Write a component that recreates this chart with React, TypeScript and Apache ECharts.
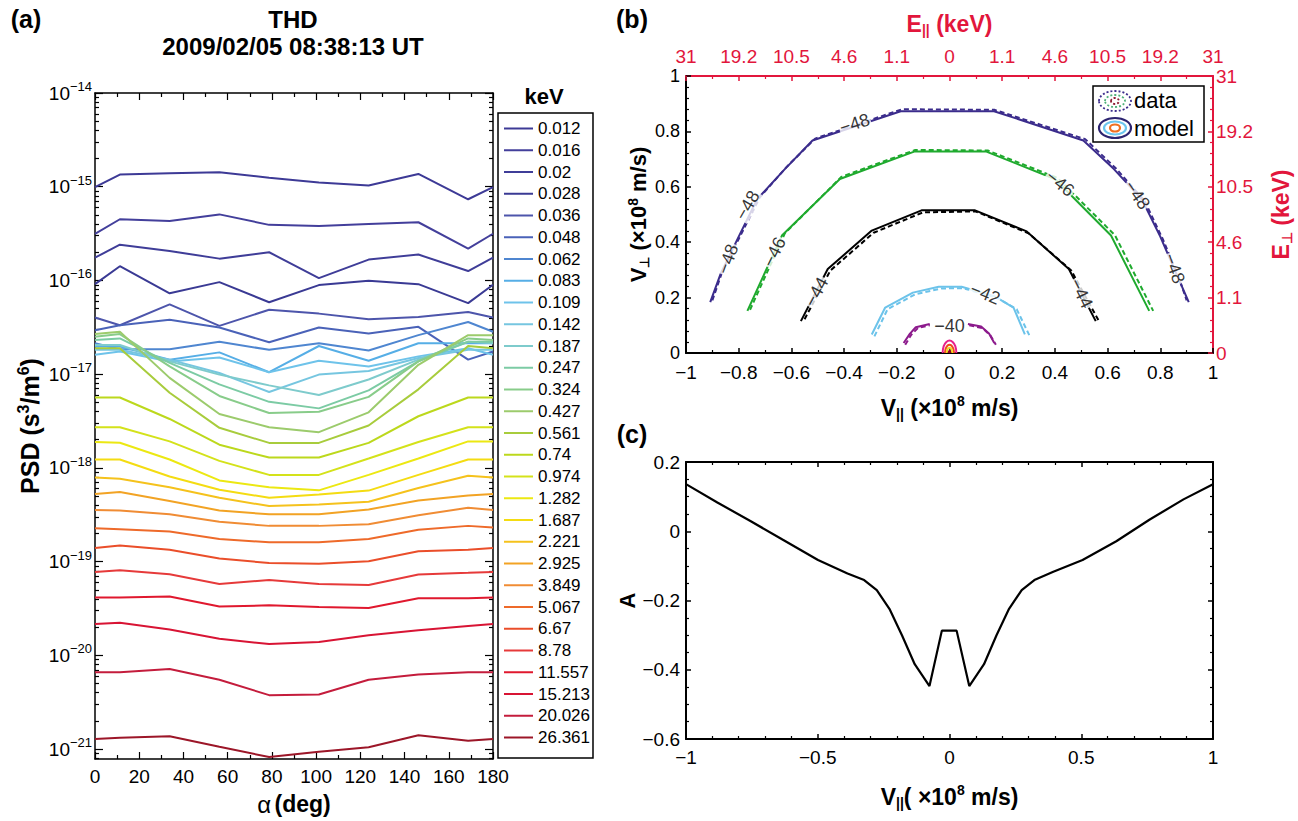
import React, { useEffect, useRef } from "react";
import * as echarts from "echarts";

const FONT = "'Liberation Sans', Arial, Helvetica, sans-serif";
const RED = "#e2163c";

// ---------------- Panel (a): PSD vs pitch angle ----------------
const pitchAngleDeg = [0, 11.25, 33.75, 56.25, 78.75, 101.25, 123.75, 146.25, 168.75, 180];
const energyKeV = ["0.012", "0.016", "0.02", "0.028", "0.036", "0.048", "0.062", "0.083", "0.109", "0.142", "0.187", "0.247", "0.324", "0.427", "0.561", "0.74", "0.974", "1.282", "1.687", "2.221", "2.925", "3.849", "5.067", "6.67", "8.78", "11.557", "15.213", "20.026", "26.361"];
const energyColors = ["#3d3a96", "#433f9b", "#3f3d98", "#3a3a94", "#4d55ab", "#4a62b8", "#4f86d0", "#56aee6", "#6ec3ea", "#76c6e0", "#7ecbcc", "#7ccba4", "#88cc8a", "#9ccb6c", "#a8cc3c", "#bcd81c", "#d4e21a", "#ece812", "#f4dc12", "#f5c21c", "#f2a324", "#f08c34", "#ee6a2a", "#ea4e2a", "#e63a3a", "#e0182e", "#d81434", "#c41c3c", "#9c1628"];

const psd_0012 = [9.9e-16, 1.35e-15, 1.39e-15, 1.43e-15, 1.25e-15, 1.11e-15, 1.03e-15, 1.37e-15, 7.35e-16, 9.9e-16];
const psd_0016 = [3.15e-16, 4.5e-16, 4.32e-16, 5.07e-16, 3.92e-16, 3.82e-16, 4.01e-16, 4.18e-16, 2.19e-16, 3.15e-16];
const psd_0020 = [1.75e-16, 2.41e-16, 2.06e-16, 1.71e-16, 2.0e-16, 1.06e-16, 1.67e-16, 1.89e-16, 1.26e-16, 1.75e-16];
const psd_0028 = [9.14e-17, 1.42e-16, 7.3e-17, 9.6e-17, 5.86e-17, 8.93e-17, 9.93e-17, 9.14e-17, 5.73e-17, 9.0e-17];
const psd_0036 = [4.02e-17, 3.33e-17, 5.55e-17, 3.28e-17, 4.88e-17, 4.43e-17, 3.85e-17, 4.08e-17, 4.6e-17, 4.02e-17];
const psd_0048 = [2.95e-17, 3.33e-17, 3.82e-17, 3.15e-17, 2.19e-17, 3.15e-17, 2.72e-17, 3.2e-17, 1.43e-17, 1.75e-17];
const psd_0062 = [2.14e-17, 1.85e-17, 1.85e-17, 2.22e-17, 1.82e-17, 2.14e-17, 1.79e-17, 2.61e-17, 3.61e-17, 2.84e-17];
const psd_0083 = [1.97e-17, 1.97e-17, 1.43e-17, 1.71e-17, 1.05e-17, 2.0e-17, 1.39e-17, 2.14e-17, 2.14e-17, 2.14e-17];
const psd_0109 = [1.61e-17, 1.75e-17, 1.37e-17, 1.51e-17, 1.05e-17, 1.39e-17, 1.21e-17, 1.55e-17, 1.89e-17, 1.61e-17];
const psd_0142 = [1.82e-17, 1.82e-17, 1.43e-17, 1.03e-17, 6.46e-18, 9.9e-18, 1.08e-17, 1.49e-17, 1.82e-17, 1.82e-17];
const psd_0187 = [2.05e-17, 2.05e-17, 1.37e-17, 9.9e-18, 7.6e-18, 6.01e-18, 8.79e-18, 1.43e-17, 2.22e-17, 2.14e-17];
const psd_0247 = [2.32e-17, 2.41e-17, 1.32e-17, 7.78e-18, 5.07e-18, 4.32e-18, 6.73e-18, 1.37e-17, 2.22e-17, 2.22e-17];
const psd_0324 = [2.51e-17, 2.68e-17, 1.21e-17, 5.86e-18, 3.85e-18, 3.98e-18, 5.73e-18, 1.37e-17, 2.41e-17, 2.32e-17];
const psd_0427 = [2.68e-17, 2.84e-17, 9.14e-18, 3.76e-18, 2.72e-18, 2.41e-18, 3.92e-18, 1.26e-17, 2.61e-17, 2.61e-17];
const psd_0561 = [1.89e-17, 1.89e-17, 6.35e-18, 2.68e-18, 1.85e-18, 1.85e-18, 2.84e-18, 6.9e-18, 2.0e-17, 1.89e-17];
const psd_0740 = [5.64e-18, 5.64e-18, 3.33e-18, 1.77e-18, 1.29e-18, 1.29e-18, 1.85e-18, 3.56e-18, 5.64e-18, 5.64e-18];
const psd_0974 = [2.72e-18, 2.72e-18, 1.92e-18, 1.19e-18, 8.43e-19, 8.43e-19, 1.26e-18, 1.89e-18, 2.72e-18, 2.72e-18];
const psd_1282 = [1.89e-18, 1.86e-18, 1.23e-18, 7.36e-19, 6.21e-19, 5.77e-19, 8.43e-19, 1.26e-18, 1.92e-18, 1.92e-18];
const psd_1687 = [1.23e-18, 1.23e-18, 8.11e-19, 5.86e-19, 4.8e-19, 5.2e-19, 5.73e-19, 8.43e-19, 1.23e-18, 1.23e-18];
const psd_2221 = [7.91e-19, 7.66e-19, 6.21e-19, 4.8e-19, 3.92e-19, 4.07e-19, 4.36e-19, 6.11e-19, 8.24e-19, 7.91e-19];
const psd_2925 = [5.28e-19, 5.55e-19, 4.43e-19, 3.52e-19, 3.2e-19, 3.2e-19, 3.61e-19, 4.5e-19, 5.07e-19, 5.28e-19];
const psd_3849 = [3.56e-19, 3.52e-19, 3.2e-19, 2.66e-19, 2.41e-19, 2.41e-19, 2.51e-19, 3.13e-19, 3.76e-19, 3.56e-19];
const psd_5067 = [2.28e-19, 2.22e-19, 2.1e-19, 1.75e-19, 1.61e-19, 1.61e-19, 1.75e-19, 2.19e-19, 2.41e-19, 2.32e-19];
const psd_6670 = [1.4e-19, 1.49e-19, 1.34e-19, 1.08e-19, 9.68e-20, 9.53e-20, 1.01e-19, 1.29e-19, 1.34e-19, 1.4e-19];
const psd_8780 = [7.78e-20, 8.11e-20, 7.36e-20, 5.78e-20, 6.37e-20, 5.78e-20, 5.64e-20, 7.29e-20, 7.6e-20, 7.78e-20];
const psd_11557 = [4.15e-20, 4.15e-20, 4.25e-20, 3.33e-20, 3.42e-20, 3.28e-20, 3.21e-20, 4.08e-20, 4.08e-20, 4.15e-20];
const psd_15213 = [2.17e-20, 2.23e-20, 1.89e-20, 1.51e-20, 1.32e-20, 1.39e-20, 1.64e-20, 1.86e-20, 2.06e-20, 2.17e-20];
const psd_20026 = [6.62e-21, 6.62e-21, 7.18e-21, 5.51e-21, 3.77e-21, 3.83e-21, 5.51e-21, 6.27e-21, 6.62e-21, 6.62e-21];
const psd_26361 = [1.28e-21, 1.32e-21, 1.37e-21, 1.06e-21, 8.24e-22, 9.38e-22, 1.05e-21, 1.41e-21, 1.23e-21, 1.28e-21];

const psdRows = [psd_0012, psd_0016, psd_0020, psd_0028, psd_0036, psd_0048, psd_0062, psd_0083, psd_0109, psd_0142, psd_0187, psd_0247, psd_0324, psd_0427, psd_0561, psd_0740, psd_0974, psd_1282, psd_1687, psd_2221, psd_2925, psd_3849, psd_5067, psd_6670, psd_8780, psd_11557, psd_15213, psd_20026, psd_26361];

const psdDecadeExponents = [-21, -20, -19, -18, -17, -16, -15, -14];
const PSD_LOG_MIN = -21.105;
const PSD_LOG_MAX = -14;

// ---------------- Panel (b): contours ----------------
const eParallelLabels = ["31", "19.2", "10.5", "4.6", "1.1", "0", "1.1", "4.6", "10.5", "19.2", "31"];
const ePerpLabels = ["0", "1.1", "4.6", "10.5", "19.2", "31"];

const model48 = [[-0.908, 0.184], [-0.869, 0.285], [-0.8, 0.42], [-0.73, 0.555], [-0.625, 0.664], [-0.52, 0.767], [-0.185, 0.873], [0.169, 0.873], [0.508, 0.767], [0.624, 0.664], [0.73, 0.555], [0.8, 0.42], [0.867, 0.273], [0.908, 0.184]];
const data48 = [[-0.9, 0.19], [-0.86, 0.3], [-0.79, 0.43], [-0.72, 0.562], [-0.618, 0.672], [-0.51, 0.774], [-0.18, 0.88], [0.17, 0.878], [0.515, 0.772], [0.632, 0.666], [0.74, 0.55], [0.81, 0.41], [0.872, 0.268], [0.9, 0.19]];
const model46 = [[-0.767, 0.152], [-0.636, 0.424], [-0.416, 0.628], [-0.134, 0.727], [0.14, 0.727], [0.4, 0.628], [0.613, 0.424], [0.758, 0.152]];
const data46 = [[-0.757, 0.156], [-0.625, 0.432], [-0.41, 0.636], [-0.13, 0.733], [0.145, 0.731], [0.41, 0.632], [0.628, 0.425], [0.773, 0.152]];
const model44 = [[-0.564, 0.115], [-0.462, 0.303], [-0.295, 0.442], [-0.106, 0.515], [0.097, 0.515], [0.293, 0.439], [0.453, 0.303], [0.555, 0.115]];
const data44 = [[-0.55, 0.122], [-0.452, 0.298], [-0.288, 0.434], [-0.1, 0.508], [0.1, 0.511], [0.3, 0.432], [0.462, 0.298], [0.57, 0.11]];
const model42 = [[-0.295, 0.067], [-0.244, 0.164], [-0.139, 0.218], [-0.041, 0.239], [0.046, 0.239], [0.17, 0.205], [0.243, 0.164], [0.286, 0.067]];
const data42 = [[-0.285, 0.06], [-0.235, 0.158], [-0.13, 0.212], [-0.03, 0.233], [0.05, 0.234], [0.18, 0.2], [0.255, 0.158], [0.305, 0.06]];
const model40Left = [[-0.174, 0.036], [-0.15, 0.07], [-0.128, 0.093], [-0.075, 0.105]];
const model40Right = [[0.07, 0.105], [0.12, 0.096], [0.15, 0.07], [0.17, 0.036]];
const data40Left = [[-0.168, 0.03], [-0.145, 0.066], [-0.12, 0.09], [-0.075, 0.1]];
const data40Right = [[0.075, 0.1], [0.125, 0.09], [0.155, 0.064], [0.176, 0.03]];
const ring38 = [[-0.026, 0], [-0.022, 0.025], [-0.012, 0.04], [0, 0.045], [0.012, 0.04], [0.022, 0.025], [0.026, 0]];
const ring36 = [[-0.017, 0], [-0.014, 0.017], [0, 0.03], [0.014, 0.017], [0.017, 0]];
const ring34 = [[-0.01, 0], [-0.008, 0.012], [0, 0.019], [0.008, 0.012], [0.01, 0]];
const ring32 = [[-0.004, 0], [0, 0.008], [0.004, 0]];

const contourLabelText = ["−48", "−48", "−48", "−48", "−48", "−46", "−46", "−44", "−44", "−42", "−40"];
const contourLabelPos = [[-0.841, 0.339], [-0.767, 0.533], [-0.36, 0.828], [0.712, 0.57], [0.853, 0.305], [-0.665, 0.364], [0.42, 0.612], [-0.505, 0.22], [0.5, 0.215], [0.135, 0.214], [0.0, 0.097]];
const contourLabelRot = [70, 60, 18, -55, -70, 64, -38, 62, -64, -22, 0];

// ---------------- Panel (c): anisotropy ----------------
const vParallelC = [-1, -0.881, -0.754, -0.634, -0.499, -0.387, -0.324, -0.276, -0.228, -0.18, -0.132, -0.076, -0.029, 0.027, 0.075, 0.131, 0.178, 0.226, 0.274, 0.322, 0.394, 0.505, 0.633, 0.76, 0.888, 1.0];
const anisotropyA = [0.136, 0.083, 0.029, -0.024, -0.083, -0.122, -0.141, -0.17, -0.224, -0.301, -0.384, -0.447, -0.287, -0.287, -0.447, -0.384, -0.301, -0.224, -0.17, -0.141, -0.117, -0.083, -0.029, 0.034, 0.092, 0.136];

// ---------------- helpers ----------------
const minus = (v: number, digits = 1) => {
  const r = Math.round(v * Math.pow(10, digits)) / Math.pow(10, digits);
  if (Math.abs(r) < 1e-9) return "0";
  return r < 0 ? "−" + String(Math.abs(r)) : String(r);
};

const psdMinorTicks: number[] = [];
for (let e = -22; e <= -15; e++) {
  for (let m = 2; m <= 9; m++) {
    const v = e + Math.log10(m);
    if (v > PSD_LOG_MIN && v < PSD_LOG_MAX) psdMinorTicks.push(v);
  }
}

const richBase = (size: number, color = "#000", weight: any = "bold") => ({
  n: { fontSize: size, fontWeight: weight, color, fontFamily: FONT },
  sup: { fontSize: Math.round(size * 0.62), fontWeight: weight, color, fontFamily: FONT, padding: [0, 0, Math.round(size * 0.55), 0] },
  sub: { fontSize: Math.round(size * 0.6), fontWeight: weight, color, fontFamily: FONT, padding: [Math.round(size * 0.55), 0, 0, 0] },
});

function buildOption(): any {
  const lineW = 1.5;
  const blackLine = { onZero: false, lineStyle: { color: "#000", width: 2 } };
  const redLine = { onZero: false, lineStyle: { color: RED, width: 2 } };
  const tickLbl = (size: number, color = "#000", margin = 6) => ({ fontSize: size, color, fontFamily: FONT, margin });

  const xAxis: any[] = [
    // 0: (a) bottom
    {
      type: "value", gridIndex: 0, min: 0, max: 180, interval: 20, position: "bottom",
      axisLine: { onZero: false, lineStyle: { color: "#000", width: lineW } },
      axisTick: { inside: true, length: 7, lineStyle: { color: "#000", width: 1.2 } },
      minorTick: { show: true, splitNumber: 2, length: 4, lineStyle: { color: "#000", width: 1.2 } },
      axisLabel: tickLbl(19, "#000", 8), splitLine: { show: false },
      name: "{g|α} {n|(deg)}", nameLocation: "middle", nameGap: 33,
      nameTextStyle: { rich: { ...richBase(23), g: { fontSize: 24, fontFamily: FONT, color: "#000" } } },
    },
    // 1: (a) top
    {
      type: "value", gridIndex: 0, min: 0, max: 180, interval: 20, position: "top",
      axisLine: { onZero: false, lineStyle: { color: "#000", width: lineW } },
      axisTick: { inside: true, length: 7, lineStyle: { color: "#000", width: 1.2 } },
      minorTick: { show: true, splitNumber: 2, length: 4, lineStyle: { color: "#000", width: 1.2 } },
      axisLabel: { show: false }, splitLine: { show: false },
    },
    // 2: (b) bottom
    {
      type: "value", gridIndex: 1, min: -1, max: 1, interval: 0.2, position: "bottom",
      axisLine: blackLine,
      axisTick: { inside: true, length: 5, lineStyle: { color: "#000", width: 1.5 } },
      minorTick: { show: true, splitNumber: 2, length: 3, lineStyle: { color: "#000", width: 1.2 } },
      axisLabel: { ...tickLbl(19, "#000", 10), formatter: (v: number) => minus(v) }, splitLine: { show: false },
      name: "{n|V}{sub|||}{n| (×10}{sup|8}{n| m/s)}", nameLocation: "middle", nameGap: 41,
      nameTextStyle: { rich: richBase(23) },
    },
    // 3: (b) top (red, E parallel)
    {
      type: "value", gridIndex: 1, min: -1, max: 1, interval: 0.2, position: "top",
      axisLine: redLine,
      axisTick: { inside: true, length: 5, lineStyle: { color: RED, width: 1.5 } },
      minorTick: { show: true, splitNumber: 2, length: 3, lineStyle: { color: RED, width: 1.2 } },
      axisLabel: { ...tickLbl(19, RED, 10), formatter: (v: number) => eParallelLabels[Math.round((v + 1) / 0.2)] ?? "" },
      splitLine: { show: false },
      name: "{n|E}{sub|||}{n| (keV)}", nameLocation: "middle", nameGap: 39,
      nameTextStyle: { rich: richBase(23, RED) },
    },
    // 4: (c) bottom
    {
      type: "value", gridIndex: 2, min: -1, max: 1, interval: 0.5, position: "bottom",
      axisLine: blackLine,
      axisTick: { inside: true, length: 5, lineStyle: { color: "#000", width: 1.5 } },
      minorTick: { show: true, splitNumber: 5, length: 3, lineStyle: { color: "#000", width: 1.2 } },
      axisLabel: { ...tickLbl(19, "#000", 9), formatter: (v: number) => minus(v) }, splitLine: { show: false },
      name: "{n|V}{sub|||}{n|( ×10}{sup|8}{n| m/s)}", nameLocation: "middle", nameGap: 44,
      nameTextStyle: { rich: richBase(23) },
    },
    // 5: (c) top
    {
      type: "value", gridIndex: 2, min: -1, max: 1, interval: 0.5, position: "top",
      axisLine: blackLine,
      axisTick: { inside: true, length: 5, lineStyle: { color: "#000", width: 1.5 } },
      minorTick: { show: true, splitNumber: 5, length: 3, lineStyle: { color: "#000", width: 1.2 } },
      axisLabel: { show: false }, splitLine: { show: false },
    },
  ];

  const psdLabelFmt = (v: number) => {
    const e = Math.round(v);
    if (Math.abs(v - e) > 1e-6) return "";
    return "{b|10}{s|−" + String(-e) + "}";
  };
  const psdLabelRich = {
    b: { fontSize: 19, fontFamily: FONT, color: "#000" },
    s: { fontSize: 13, fontFamily: FONT, color: "#000", padding: [0, 0, 13, 0] },
  };

  const yAxis: any[] = [
    // 0: (a) left major
    {
      type: "value", gridIndex: 0, min: PSD_LOG_MIN, max: PSD_LOG_MAX, splitNumber: 7, position: "left",
      axisLine: { onZero: false, lineStyle: { color: "#000", width: lineW } },
      axisTick: { inside: true, length: 8, customValues: psdDecadeExponents, lineStyle: { color: "#000", width: 1.2 } },
      axisLabel: { customValues: psdDecadeExponents, formatter: psdLabelFmt, rich: psdLabelRich, margin: 3, fontFamily: FONT },
      splitLine: { show: false },
      name: "{n|PSD (s}{sup|3}{n|/m}{sup|6}{n|)}", nameLocation: "middle", nameRotate: 90, nameGap: 50,
      nameTextStyle: { rich: richBase(25) },
    },
    // 1: (a) left minor
    {
      type: "value", gridIndex: 0, min: PSD_LOG_MIN, max: PSD_LOG_MAX, position: "left",
      axisLine: { show: false, onZero: false },
      axisTick: { inside: true, length: 4, customValues: psdMinorTicks, lineStyle: { color: "#000", width: 1.2 } },
      axisLabel: { show: false }, splitLine: { show: false },
    },
    // 2: (a) right major
    {
      type: "value", gridIndex: 0, min: PSD_LOG_MIN, max: PSD_LOG_MAX, position: "right",
      axisLine: { onZero: false, lineStyle: { color: "#000", width: lineW } },
      axisTick: { inside: true, length: 8, customValues: psdDecadeExponents, lineStyle: { color: "#000", width: 1.2 } },
      axisLabel: { show: false }, splitLine: { show: false },
    },
    // 3: (a) right minor
    {
      type: "value", gridIndex: 0, min: PSD_LOG_MIN, max: PSD_LOG_MAX, position: "right",
      axisLine: { show: false, onZero: false },
      axisTick: { inside: true, length: 4, customValues: psdMinorTicks, lineStyle: { color: "#000", width: 1.2 } },
      axisLabel: { show: false }, splitLine: { show: false },
    },
    // 4: (b) left
    {
      type: "value", gridIndex: 1, min: 0, max: 1, interval: 0.2, position: "left",
      axisLine: blackLine,
      axisTick: { inside: true, length: 5, lineStyle: { color: "#000", width: 1.5 } },
      minorTick: { show: true, splitNumber: 5, length: 3, lineStyle: { color: "#000", width: 1.2 } },
      axisLabel: { ...tickLbl(18, "#000", 6), formatter: (v: number) => minus(v) }, splitLine: { show: false },
      name: "{n|V}{sub|⊥}{n| (×10}{sup|8}{n| m/s)}", nameLocation: "middle", nameRotate: 90, nameGap: 34,
      nameTextStyle: { rich: richBase(22) },
    },
    // 5: (b) right (red, E perp)
    {
      type: "value", gridIndex: 1, min: 0, max: 1, interval: 0.2, position: "right",
      axisLine: redLine,
      axisTick: { inside: true, length: 5, lineStyle: { color: RED, width: 1.5 } },
      minorTick: { show: true, splitNumber: 5, length: 3, lineStyle: { color: RED, width: 1.2 } },
      axisLabel: { ...tickLbl(19, RED, 3), formatter: (v: number) => ePerpLabels[Math.round(v / 0.2)] ?? "" },
      splitLine: { show: false },
      name: "{n|E}{sub|⊥}{n| (keV)}", nameLocation: "middle", nameRotate: 90, nameGap: 54,
      nameTextStyle: { rich: richBase(23, RED) },
    },
    // 6: (c) left
    {
      type: "value", gridIndex: 2, min: -0.6, max: 0.2, interval: 0.2, position: "left",
      axisLine: blackLine,
      axisTick: { inside: true, length: 5, lineStyle: { color: "#000", width: 1.5 } },
      minorTick: { show: true, splitNumber: 4, length: 3, lineStyle: { color: "#000", width: 1.2 } },
      axisLabel: { ...tickLbl(19, "#000", 6), formatter: (v: number) => minus(v) }, splitLine: { show: false },
      name: "A", nameLocation: "middle", nameRotate: 90, nameGap: 48,
      nameTextStyle: { fontSize: 22, fontWeight: "bold", fontFamily: FONT, color: "#000" },
    },
    // 7: (c) right
    {
      type: "value", gridIndex: 2, min: -0.6, max: 0.2, interval: 0.2, position: "right",
      axisLine: blackLine,
      axisTick: { inside: true, length: 5, lineStyle: { color: "#000", width: 1.5 } },
      minorTick: { show: true, splitNumber: 4, length: 3, lineStyle: { color: "#000", width: 1.2 } },
      axisLabel: { show: false }, splitLine: { show: false },
    },
  ];

  const series: any[] = [];
  energyKeV.forEach((name, i) => {
    series.push({
      type: "line", name, xAxisIndex: 0, yAxisIndex: 0, symbol: "none", silent: true,
      lineStyle: { color: energyColors[i], width: 2 }, itemStyle: { color: energyColors[i] },
      data: pitchAngleDeg.map((a, j) => [a, Math.log10(psdRows[i][j])]), z: 3,
    });
  });

  const contour = (name: string, data: number[][], color: string, dashed: boolean, smooth = false) => ({
    type: "line", name, xAxisIndex: 2, yAxisIndex: 4, symbol: "none", silent: true, smooth,
    lineStyle: { color, width: 2, type: dashed ? [5, 3] : "solid" }, itemStyle: { color },
    data, z: dashed ? 3 : 4,
  });
  const C48 = "#3b2c8c", C46 = "#1faa2e", C44 = "#000000", C42 = "#6cc3ea", C40 = "#8c1a8c";
  series.push(contour("data −48", data48, C48, true));
  series.push(contour("model −48", model48, C48, false));
  series.push(contour("data −46", data46, C46, true));
  series.push(contour("model −46", model46, C46, false));
  series.push(contour("data −44", data44, C44, true));
  series.push(contour("model −44", model44, C44, false));
  series.push(contour("data −42", data42, C42, true));
  series.push(contour("model −42", model42, C42, false));
  series.push(contour("data −40 L", data40Left, C40, true));
  series.push(contour("data −40 R", data40Right, C40, true));
  series.push(contour("model −40 L", model40Left, C40, false));
  series.push(contour("model −40 R", model40Right, C40, false));
  series.push(contour("model −38", ring38, "#e8208c", false, true));
  series.push(contour("model −36", ring36, "#f04a20", false, true));
  series.push(contour("model −34", ring34, "#f0d820", false, true));
  series.push(contour("model −32", ring32, "#900020", false, true));
  series.push({
    type: "scatter", name: "contour labels", xAxisIndex: 2, yAxisIndex: 4, symbolSize: 0, silent: true, z: 6,
    data: contourLabelPos.map((p, i) => ({ value: p, label: { rotate: contourLabelRot[i] } })),
    label: {
      show: true, position: "inside", fontSize: 18, color: "#000", fontFamily: FONT,
      backgroundColor: "#fff", padding: [0, 1],
      formatter: (p: any) => contourLabelText[p.dataIndex],
    },
  });

  series.push({
    type: "line", name: "A", xAxisIndex: 4, yAxisIndex: 6, symbol: "none", silent: true,
    lineStyle: { color: "#000", width: 2.2 }, itemStyle: { color: "#000" },
    data: vParallelC.map((v, i) => [v, anisotropyA[i]]), z: 3,
  });

  const txt = (text: string, x: number, y: number, size: number, weight = "bold", align = "center", color = "#000") => ({
    type: "text", x, y, z: 100, silent: true,
    style: {
      text, fill: color, fontSize: size, fontWeight: weight, fontFamily: FONT,
      align, verticalAlign: "middle", textAlign: align, textVerticalAlign: "middle",
    },
  });
  const ell = (cx: number, cy: number, rx: number, ry: number, color: string, dash: boolean) => ({
    type: "ellipse", z: 101, silent: true, shape: { cx, cy, rx, ry },
    style: { fill: "none", stroke: color, lineWidth: dash ? 1.8 : 2.2, lineDash: dash ? [2, 2] : null },
  });

  const graphic: any[] = [
    txt("(a)", 26, 19, 25),
    txt("THD", 293, 19, 24),
    txt("2009/02/05 08:38:13 UT", 293, 46, 24),
    txt("keV", 544, 96, 22),
    txt("(b)", 632, 19, 25),
    txt("(c)", 632, 434, 25),
    {
      type: "rect", z: 100, silent: true, shape: { x: 1093, y: 86, width: 111, height: 56 },
      style: { fill: "#fff", stroke: "#000", lineWidth: 1.5 },
    },
    ell(1115, 101, 16, 10, "#3b2c8c", true),
    ell(1115, 101, 10, 6, "#4fb07a", true),
    ell(1115, 101, 4, 3, "#8c1a30", true),
    ell(1115, 128, 16, 10, "#2c2470", false),
    ell(1115, 128, 11, 6.5, "#6cc6ee", false),
    ell(1115, 128, 5, 3.5, "#f07020", false),
    txt("data", 1134, 100, 22, "normal", "left"),
    txt("model", 1134, 128, 22, "normal", "left"),
  ];

  return {
    animation: false,
    backgroundColor: "#ffffff",
    textStyle: { fontFamily: FONT },
    grid: [
      { left: 95, top: 93, width: 398, height: 675 },
      { left: 686, top: 76, width: 527, height: 277 },
      { left: 686, top: 462, width: 527, height: 277 },
    ],
    legend: {
      data: energyKeV, orient: "vertical", left: 498, top: 113,
      icon: "rect", itemWidth: 29, itemHeight: 2, itemGap: 4.75,
      padding: [7, 3, 12, 6], borderColor: "#000", borderWidth: 1.5, backgroundColor: "#fff",
      selectedMode: false,
      textStyle: { fontSize: 17, color: "#000", fontFamily: FONT },
    },
    xAxis, yAxis, series, graphic,
  };
}

export default function App() {
  const ref = useRef<HTMLDivElement>(null);
  useEffect(() => {
    if (!ref.current) return;
    const chart = echarts.init(ref.current, undefined, { renderer: "svg", width: 1298, height: 821 });
    chart.setOption(buildOption());
    return () => chart.dispose();
  }, []);
  return (
    <div
      ref={ref}
      style={{ position: "absolute", left: 0, top: 0, width: 1298, height: 821, background: "#fff" }}
    />
  );
}
